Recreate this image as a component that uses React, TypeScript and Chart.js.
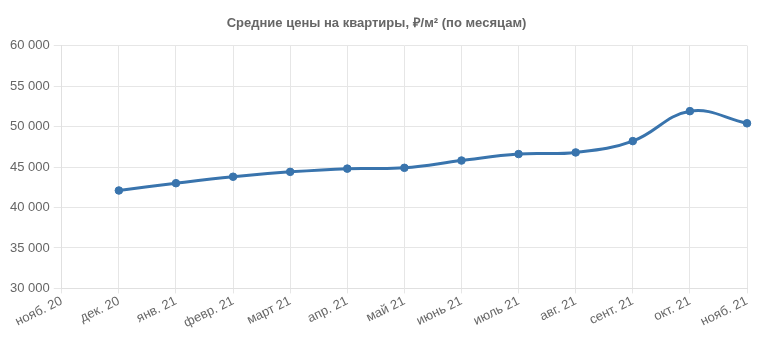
import React, { useEffect, useRef } from "react";
import { Chart, registerables } from "chart.js";

Chart.register(...registerables);

const categories = [
  "нояб. 20", "дек. 20", "янв. 21", "февр. 21", "март 21", "апр. 21", "май 21",
  "июнь 21", "июль 21", "авг. 21", "сент. 21", "окт. 21", "нояб. 21",
];
const prices: (number | null)[] = [
  null, 42100, 43000, 43800, 44400, 44800, 44900, 45800, 46600, 46800, 48200, 51900, 50400,
];
const title = "Средние цены на квартиры, ₽/м² (по месяцам)";

export default function App() {
  const ref = useRef<HTMLCanvasElement>(null);
  useEffect(() => {
    document.body.style.margin = "0";
    const fmt = (v: number) => String(v).replace(/\B(?=(\d{3})+(?!\d))/g, " ");
    const family = "'Liberation Sans', Arial, sans-serif";
    const chart = new Chart(ref.current!, {
      type: "line",
      data: {
        labels: categories,
        datasets: [
          {
            data: prices,
            borderColor: "#3974ad",
            backgroundColor: "#3974ad",
            borderWidth: 3,
            pointRadius: 3.8,
            pointBorderWidth: 1,
            pointHoverRadius: 3.8,
            tension: 0.4,
            fill: false,
          },
        ],
      },
      options: {
        animation: false,
        responsive: false,
        layout: { padding: { left: 6, right: 13, top: 6, bottom: 22 } },
        plugins: {
          legend: { display: false },
          tooltip: { enabled: false },
          title: {
            display: true,
            text: title,
            color: "#666",
            font: { family, size: 13, weight: "bold" },
            padding: { top: 10, bottom: 14 },
          },
        },
        scales: {
          x: {
            grid: { color: "#e6e6e6", tickLength: 5 },
            border: { color: "#e0e0e0" },
            ticks: {
              color: "#666",
              font: { family, size: 13 },
              minRotation: 26,
              maxRotation: 26,
              autoSkip: false,
              padding: 0,
            },
          },
          y: {
            min: 30000,
            max: 60000,
            grid: { color: "#e6e6e6" },
            border: { color: "#e0e0e0" },
            ticks: {
              stepSize: 5000,
              color: "#666",
              font: { family, size: 13 },
              padding: 4,
              callback: (v: any) => fmt(Number(v)),
            },
          },
        },
      },
    });
    return () => chart.destroy();
  }, []);
  return (
    <div style={{ width: 760, height: 353 }}>
      <canvas ref={ref} width={760} height={353} />
    </div>
  );
}
